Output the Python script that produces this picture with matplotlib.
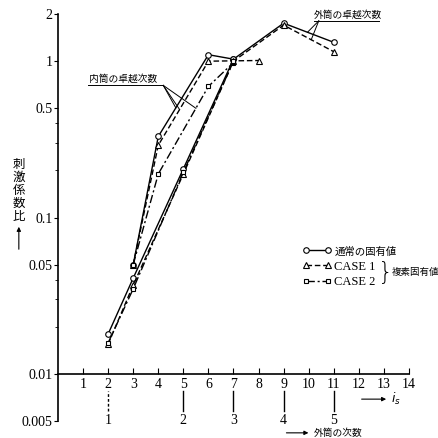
#刺激係数比と次数の関係 (内筒・外筒, 通常/複素固有値)
import numpy as np
import matplotlib.pyplot as plt
from matplotlib.lines import Line2D

plt.rcParams['font.family'] = ['Liberation Serif', 'Noto Sans CJK JP']

# 内筒の卓越次数
in_x_normal = [3, 4, 6, 7]
in_y_normal = [0.05, 0.33, 1.1, 1.03]
in_x_case1 = [3, 4, 6, 8]
in_y_case1 = [0.05, 0.29, 1.0, 1.01]
in_x_case2 = [3, 4, 6, 7]
in_y_case2 = [0.05, 0.19, 0.69, 0.98]

# 外筒の卓越次数
out_x_normal = [2, 3, 5, 7, 9, 11]
out_y_normal = [0.018, 0.041, 0.205, 1.03, 1.75, 1.32]
out_x_case1 = [2, 3, 5, 7, 9, 11]
out_y_case1 = [0.0155, 0.037, 0.19, 1.0, 1.7, 1.15]
out_x_case2 = [2, 3, 5, 7]
out_y_case2 = [0.0158, 0.035, 0.195, 1.0]

yticks = [0.005, 0.01, 0.05, 0.1, 0.5, 1, 2]
ytick_labels = ["0.005", "0.01", "0.05", "0.1", "0.5", "1", "2"]
is_ticks = list(range(1, 15))
outer_pos = [2, 5, 7, 9, 11]
outer_order = ["1", "2", "3", "4", "5"]

fig = plt.figure(figsize=(4.38, 4.38), dpi=100)
ax = fig.add_axes([0.1324, 0.0388, 0.8014, 0.929])
ax.set_yscale('log')
ax.set_xlim(0, 14)
ax.set_ylim(0.005, 2)

normal = dict(color='k', lw=1.0, ls='-', marker='o', ms=4, mfc='white', mec='k', mew=0.8)
case1 = dict(color='k', lw=1.0, ls=(0, (4, 2)), marker='^', ms=4, mfc='white', mec='k', mew=0.8)
case2 = dict(color='k', lw=1.0, ls=(0, (6, 2, 1.5, 2)), marker='s', ms=3.5, mfc='white', mec='k', mew=0.8)

ax.plot(in_x_normal, in_y_normal, **normal)
ax.plot(in_x_case1, in_y_case1, **case1)
ax.plot(in_x_case2, in_y_case2, **case2)
ax.plot(out_x_normal, out_y_normal, **normal)
ax.plot(out_x_case1, out_y_case1, **case1)
ax.plot(out_x_case2, out_y_case2, **case2)

# 軸
for s in ['top', 'right']:
    ax.spines[s].set_visible(False)
ax.spines['bottom'].set_position(('data', 0.01))
ax.spines['bottom'].set_bounds(0, 14)
ax.spines['left'].set_linewidth(1.2)
ax.spines['bottom'].set_linewidth(1.2)

ax.set_yticks(yticks)
ax.set_yticklabels(ytick_labels)
ax.set_yticks([m * d for d in [0.01, 0.1] for m in [2, 3, 4]], minor=True)
ax.yaxis.set_minor_formatter(plt.NullFormatter())
ax.tick_params(axis='y', which='major', direction='out', length=3, labelsize=10, pad=1)
ax.tick_params(axis='y', which='minor', direction='out', length=2)
ax.set_xticks(is_ticks)
ax.set_xticklabels([str(v) for v in is_ticks])
ax.tick_params(axis='x', which='major', direction='in', length=4, labelsize=10, pad=3)
ax.xaxis.set_minor_locator(plt.NullLocator())

# 外筒の次数
for i, (p, lab) in enumerate(zip(outer_pos, outer_order)):
    ax.plot([p, p], [0.0058, 0.0078], color='k', lw=1.0,
            ls=(0, (2, 1.5)) if i == 0 else '-')
    ax.text(p, 0.00505, lab, ha='center', va='center', fontsize=10)

ax.annotate("", xy=(13.2, 0.0069), xytext=(12.0, 0.0069),
            arrowprops=dict(arrowstyle='-|>', color='k', lw=0.8, mutation_scale=6),
            annotation_clip=False)
ax.text(13.3, 0.0069, "$i_s$", ha='left', va='center', fontsize=9)
ax.annotate("", xy=(10.1, 0.0042), xytext=(9.0, 0.0042),
            arrowprops=dict(arrowstyle='-|>', color='k', lw=0.8, mutation_scale=6),
            annotation_clip=False)
ax.text(10.2, 0.0042, "外筒の次数", ha='left', va='center', fontsize=7,
        clip_on=False)

# 縦軸名
for k, ch in enumerate("刺激係数比"):
    fig.text(0.043, 1 - (165 + 13 * k) / 438, ch, ha='center', va='center', fontsize=9)
ax.annotate("", xy=(0.043, 1 - 224 / 438), xytext=(0.043, 1 - 252 / 438),
            xycoords='figure fraction', textcoords='figure fraction',
            arrowprops=dict(arrowstyle='-|>', color='k', lw=0.8, mutation_scale=6),
            annotation_clip=False)


def on_curve(xs, ys, x):
    return 10 ** np.interp(x, xs, np.log10(ys))


# 内筒の卓越次数 の引出し線
ax.text(1.25, 0.72, "内筒の卓越次数", ha='left', va='bottom', fontsize=7)
ax.plot([1.2, 4.2], [0.70, 0.70], color='k', lw=0.7)
for xs, ys, x in [(in_x_normal, in_y_normal, 4.7),
                  (in_x_case1, in_y_case1, 4.85),
                  (in_x_case2, in_y_case2, 5.5)]:
    ax.plot([4.2, x], [0.70, on_curve(xs, ys, x)], color='k', lw=0.7)

# 外筒の卓越次数 の引出し線
ax.text(10.2, 1.85, "外筒の卓越次数", ha='left', va='bottom', fontsize=7)
ax.plot([10.2, 12.8], [1.81, 1.81], color='k', lw=0.7)
for xs, ys, x in [(out_x_normal, out_y_normal, 9.95),
                  (out_x_case1, out_y_case1, 10.1)]:
    ax.plot([10.4, x], [1.81, on_curve(xs, ys, x)], color='k', lw=0.7)

# 凡例
handles = [Line2D([], [], **normal), Line2D([], [], **case1), Line2D([], [], **case2)]
leg = ax.legend(handles, ["通常の固有値", "CASE 1", "CASE 2"], loc='upper left',
                bbox_to_anchor=(0.695, 0.43), frameon=False, fontsize=9, numpoints=2,
                handlelength=2.4, handletextpad=0.2, labelspacing=0.3, borderpad=0,
                borderaxespad=0)
leg.get_texts()[0].set_fontsize(7.5)
ax.text(13.08, 0.0445, "}", ha='center', va='center', fontsize=17,
        fontfamily='DejaVu Sans', fontweight='light')
ax.text(13.3, 0.0445, "複素固有値", ha='left', va='center', fontsize=6.8, clip_on=False)

fig.savefig("out.png", dpi=100)
